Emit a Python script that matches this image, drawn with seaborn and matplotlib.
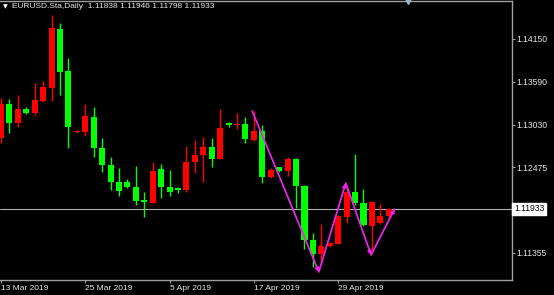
import numpy as np
import pandas as pd
import matplotlib
matplotlib.use("Agg")
import matplotlib.pyplot as plt
import matplotlib.transforms as mtransforms
import seaborn as sns

# ---------------- data ----------------
opens = [1.12857, 1.13301, 1.13053, 1.13236, 1.13184, 1.13340, 1.13510, 1.14281, 1.13732, 1.12935,
         1.12935, 1.13131, 1.12726, 1.12504, 1.12282, 1.12282, 1.12217, 1.12047, 1.12008, 1.12452,
         1.12217, 1.12204, 1.12178, 1.12544, 1.12635, 1.12739, 1.12583, 1.13053, 1.13027, 1.13040,
         1.12831, 1.12948, 1.12348, 1.12478, 1.12426, 1.12583, 1.12230, 1.11525, 1.11342, 1.11446,
         1.11473, 1.11825, 1.12152, 1.12008, 1.11708, 1.11747, 1.11838]
highs = [1.13379, 1.13366, 1.13419, 1.13262, 1.13575, 1.13602, 1.14463, 1.14359, 1.13902, 1.12962,
         1.13301, 1.13262, 1.12857, 1.12609, 1.12465, 1.12322, 1.12491, 1.12152, 1.12544, 1.12518,
         1.12439, 1.12217, 1.12753, 1.12831, 1.12870, 1.12857, 1.13236, 1.13066, 1.13184, 1.13131,
         1.13210, 1.13027, 1.12465, 1.12478, 1.12609, 1.12596, 1.12243, 1.11616, 1.11734, 1.11499,
         1.11851, 1.12243, 1.12648, 1.12191, 1.12034, 1.11995, 1.11946]
lows = [1.12792, 1.12922, 1.13001, 1.13170, 1.13157, 1.13327, 1.13340, 1.13419, 1.12726, 1.12922,
        1.12883, 1.12609, 1.12413, 1.12178, 1.12099, 1.12204, 1.11982, 1.11825, 1.12008, 1.12073,
        1.12099, 1.12139, 1.12152, 1.12400, 1.12282, 1.12478, 1.12583, 1.13001, 1.12975, 1.12792,
        1.12818, 1.12269, 1.12335, 1.12413, 1.12361, 1.11943, 1.11407, 1.11172, 1.11224, 1.11433,
        1.11473, 1.11747, 1.11982, 1.11708, 1.11355, 1.11734, 1.11798]
closes = [1.13301, 1.13053, 1.13236, 1.13184, 1.13353, 1.13523, 1.14294, 1.13719, 1.13001, 1.12948,
          1.13144, 1.12726, 1.12504, 1.12282, 1.12165, 1.12217, 1.12034, 1.12021, 1.12426, 1.12217,
          1.12152, 1.12178, 1.12544, 1.12635, 1.12739, 1.12583, 1.12988, 1.13027, 1.13040, 1.12844,
          1.12948, 1.12348, 1.12439, 1.12426, 1.12583, 1.12230, 1.11525, 1.11342, 1.11446, 1.11486,
          1.11838, 1.12152, 1.12008, 1.11721, 1.12021, 1.11838, 1.11933]

date_ticks = [0, 10, 20, 30, 40]
date_labels = ["13 Mar 2019", "25 Mar 2019", "5 Apr 2019", "17 Apr 2019", "29 Apr 2019"]
price_ticks = [1.14150, 1.13590, 1.13030, 1.12475, 1.11355]
price_labels = ["1.14150", "1.13590", "1.13030", "1.12475", "1.11355"]
last_price = 1.11933
title_text = "EURUSD.Sta,Daily  1.11838 1.11946 1.11798 1.11933"

# zigzag (bar index, price)
zig_x = [29.8, 37.7, 40.9, 43.9, 46.7]
zig_y = [1.13210, 1.11107, 1.12269, 1.11329, 1.11930]

# ---------------- style ----------------
sns.set_style("dark", rc={"axes.facecolor": "black", "figure.facecolor": "black"})
plt.rcParams["font.family"] = ["Liberation Sans", "DejaVu Sans"]

UP = "#ff0000"
DOWN = "#00ff00"
GRID = "#a0a0a0"
TXT = "#e8e8e8"
ZIG = "#ee22ee"

df = pd.DataFrame({"open": opens, "high": highs, "low": lows, "close": closes})
df["x"] = np.arange(len(df))
df["color"] = np.where(df["close"] >= df["open"], UP, DOWN)

fig = plt.figure(figsize=(5.54, 2.95), dpi=100, facecolor="black")
ax = fig.add_axes([0, 15 / 295, 512 / 554, 279 / 295])
ax.set_facecolor("black")

# wicks
ax.vlines(df["x"], df["low"], df["high"], colors=df["color"], linewidth=1.0, zorder=2)
# bodies
body_bottom = np.minimum(df["open"], df["close"])
body_h = np.maximum(np.abs(df["close"] - df["open"]), 0.00012)
ax.bar(df["x"], body_h, bottom=body_bottom, width=0.72, color=df["color"],
       edgecolor="none", linewidth=0, zorder=3)

# last price line
ax.axhline(last_price, color="#b0b0b0", linewidth=0.8, zorder=1)

# zigzag
sns.lineplot(x=zig_x, y=zig_y, sort=False, color=ZIG, linewidth=1.0, ax=ax, zorder=4)
for i in range(len(zig_x) - 1):
    ax.annotate("", xy=(zig_x[i + 1], zig_y[i + 1]), xytext=(zig_x[i], zig_y[i]),
                arrowprops=dict(arrowstyle="-|>", color=ZIG, lw=1.0,
                                mutation_scale=6, shrinkA=0, shrinkB=0), zorder=5)

ax.set_xlim(-0.12, 60.62)
ax.set_ylim(1.11002, 1.14646)

# axes frame
for side in ["top", "right", "bottom"]:
    ax.spines[side].set_visible(True)
    ax.spines[side].set_color(GRID)
    ax.spines[side].set_linewidth(1.0)
ax.spines["left"].set_visible(False)
ax.grid(False)

# y axis on right
ax.yaxis.tick_right()
ax.set_yticks(price_ticks)
ax.set_yticklabels(price_labels)
ax.tick_params(axis="y", right=True, left=False, length=2.0, width=0.8, color=GRID,
               labelcolor=TXT, labelsize=6.2, pad=1.5)

ax.set_xticks(date_ticks)
ax.set_xticklabels(date_labels)
ax.tick_params(axis="x", bottom=True, length=2, width=0.8, color=GRID,
               labelcolor=TXT, labelsize=6.0, pad=1.5)
for lab in ax.get_xticklabels():
    lab.set_ha("left")

ax.set_xlabel("")
ax.set_ylabel("")

# current price box
trans = mtransforms.blended_transform_factory(ax.transAxes, ax.transData)
ax.text(1.0 + 2 / 512, last_price, "1.11933", transform=trans, ha="left", va="center",
        fontsize=6.2, color="black", clip_on=False, zorder=6,
        bbox=dict(boxstyle="square,pad=0.18", fc="white", ec="white"))

# title
fig.text(3 / 554, 1 - 7 / 295, "\u25BC", fontsize=4.5, color="white", va="center", ha="left",
         family=["DejaVu Sans"])
fig.text(12 / 554, 1 - 7 / 295, title_text, fontsize=6.05, color=TXT, va="center", ha="left")

# small shift marker at top
ax.plot([408 / 512], [1.0], marker="v", markersize=5, color="#9fb4c8",
        transform=ax.transAxes, clip_on=False, zorder=7)

fig.savefig("out.png", dpi=100, facecolor="black")
